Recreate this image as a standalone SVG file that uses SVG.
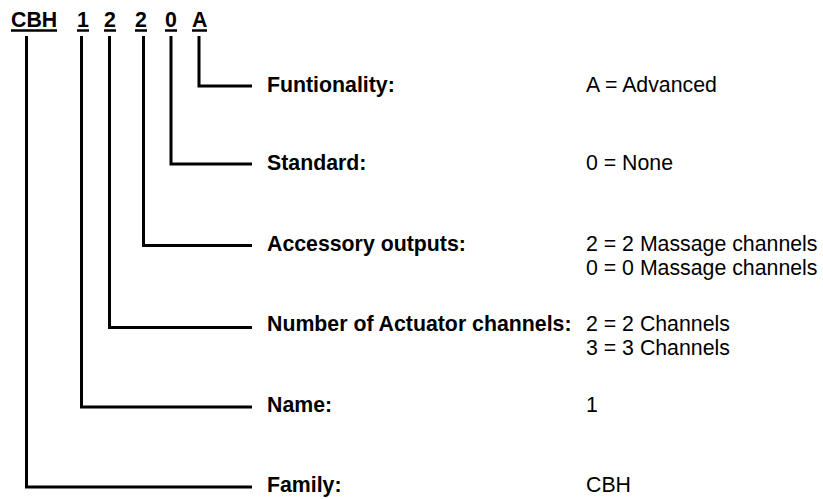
<svg xmlns="http://www.w3.org/2000/svg" width="823" height="499" viewBox="0 0 823 499">
<style>
text{font-family:"Liberation Sans",Arial,sans-serif;font-size:21.3px;fill:#000}
.b{font-weight:bold}
.code line{stroke:#000;stroke-width:2.5}
.conn path{fill:none;stroke:#000;stroke-width:3;stroke-linejoin:miter;stroke-linecap:butt}
</style>
<rect width="823" height="499" fill="#fff"/>
<g id="code" class="code">
<text class="b" x="11" y="27">CBH</text>
<text class="b" x="77" y="27">1</text>
<text class="b" x="104" y="27">2</text>
<text class="b" x="135" y="27">2</text>
<text class="b" x="165" y="27">0</text>
<text class="b" x="192" y="27">A</text>
<line x1="11" y1="30.5" x2="57" y2="30.5"/>
<line x1="77" y1="30.5" x2="89" y2="30.5"/>
<line x1="104" y1="30.5" x2="116" y2="30.5"/>
<line x1="135" y1="30.5" x2="147" y2="30.5"/>
<line x1="165" y1="30.5" x2="177" y2="30.5"/>
<line x1="192" y1="30.5" x2="207" y2="30.5"/>
</g>
<g id="connectors" class="conn">
<path d="M199,36 V86 H252"/>
<path d="M171,36 V164 H252"/>
<path d="M143.5,36 V245.5 H252"/>
<path d="M109.5,36 V327.5 H252"/>
<path d="M81.5,36 V407 H252"/>
<path d="M26.5,36 V487 H252"/>
</g>
<g id="functionality">
<text class="b" x="267" y="91.5">Funtionality:</text>
<text x="586" y="91.5">A = Advanced</text>
</g>
<g id="standard">
<text class="b" x="267" y="170">Standard:</text>
<text x="586" y="170">0 = None</text>
</g>
<g id="accessory">
<text class="b" x="267" y="251">Accessory outputs:</text>
<text x="586" y="251">2 = 2 Massage channels</text>
<text x="586" y="274.5">0 = 0 Massage channels</text>
</g>
<g id="actuator">
<text class="b" x="267" y="331">Number of Actuator channels:</text>
<text x="586" y="331">2 = 2 Channels</text>
<text x="586" y="354.5">3 = 3 Channels</text>
</g>
<g id="name">
<text class="b" x="267" y="412">Name:</text>
<text x="586" y="412">1</text>
</g>
<g id="family">
<text class="b" x="267" y="492">Family:</text>
<text x="586" y="492">CBH</text>
</g>
</svg>
